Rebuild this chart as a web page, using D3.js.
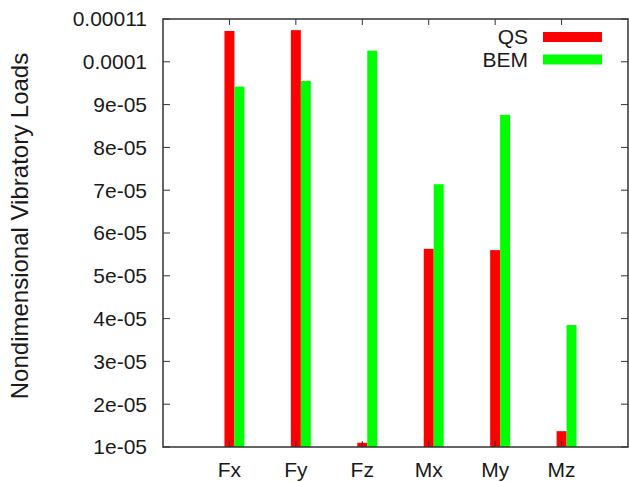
<!DOCTYPE html>
<html>
<head>
<meta charset="utf-8">
<script src="https://cdn.jsdelivr.net/npm/d3@7"></script>
<style>
  body { margin: 0; background: #fff; }
  text { font-family: "Liberation Sans", Arial, sans-serif; fill: #1a1a1a; }
</style>
</head>
<body>
<div class="chart"></div>
<script>
// data
var categories = ["Fx", "Fy", "Fz", "Mx", "My", "Mz"];
var qsValues = [1.072e-4, 1.074e-4, 1.1e-5, 5.63e-5, 5.6e-5, 1.37e-5];
var bemValues = [9.42e-5, 9.55e-5, 1.026e-4, 7.14e-5, 8.76e-5, 3.85e-5];
var yTicks = [1e-5, 2e-5, 3e-5, 4e-5, 5e-5, 6e-5, 7e-5, 8e-5, 9e-5, 1e-4, 1.1e-4];
var yTickLabels = ["1e-05", "2e-05", "3e-05", "4e-05", "5e-05", "6e-05", "7e-05", "8e-05", "9e-05", "0.0001", "0.00011"];
var seriesNames = ["QS", "BEM"];
var colors = ["#ff0000", "#00ff00"];

var width = 629, height = 482;
// plot box edges
var plotL = 163, plotR = 628, plotT = 19, plotB = 447;

var svg = d3.select(".chart").append("svg")
  .attr("width", width).attr("height", height);

// x: categories at 1..6 on a 0..7 range
var x = d3.scaleLinear().domain([0, 7]).range([plotL, plotR]);
var y = d3.scaleLinear().domain([1e-5, 1.1e-4]).range([plotB, plotT]);
var barW = x(0.15) - x(0);

// bars
var series = [qsValues, bemValues];
series.forEach(function (vals, s) {
  svg.append("g").selectAll("rect")
    .data(vals)
    .enter()
    .append("rect")
    .attr("x", function (d, i) { return x(i + 1 + s * 0.15) - barW / 2; })
    .attr("y", function (d) { return y(d); })
    .attr("width", barW)
    .attr("height", function (d) { return y(1e-5) - y(d); })
    .attr("fill", colors[s]);
});

// ticks (inward, mirrored)
var tickG = svg.append("g").attr("stroke", "#333").attr("stroke-width", 1);
yTicks.forEach(function (t) {
  tickG.append("line").attr("x1", plotL).attr("x2", plotL + 7).attr("y1", y(t)).attr("y2", y(t));
  tickG.append("line").attr("x1", plotR).attr("x2", plotR - 7).attr("y1", y(t)).attr("y2", y(t));
});
categories.forEach(function (c, i) {
  tickG.append("line").attr("x1", x(i + 1)).attr("x2", x(i + 1)).attr("y1", plotT).attr("y2", plotT + 6);
  tickG.append("line").attr("x1", x(i + 1)).attr("x2", x(i + 1)).attr("y1", plotB).attr("y2", plotB - 6);
});

// border
svg.append("rect")
  .attr("x", plotL).attr("y", plotT)
  .attr("width", plotR - plotL).attr("height", plotB - plotT)
  .attr("fill", "none").attr("stroke", "#333").attr("stroke-width", 1.5);

// tick labels
svg.append("g").selectAll("text")
  .data(yTicks)
  .enter()
  .append("text")
  .attr("x", plotL - 16)
  .attr("y", function (d) { return y(d); })
  .attr("dy", "0.35em")
  .attr("text-anchor", "end")
  .style("font-size", "21px")
  .text(function (d, i) { return yTickLabels[i]; });

svg.append("g").selectAll("text")
  .data(categories)
  .enter()
  .append("text")
  .attr("x", function (d, i) { return x(i + 1); })
  .attr("y", 477)
  .attr("text-anchor", "middle")
  .style("font-size", "21px")
  .text(function (d) { return d; });

// y label
svg.append("text")
  .attr("transform", "translate(27.5,226) rotate(-90)")
  .attr("text-anchor", "middle")
  .style("font-size", "24px")
  .text("Nondimensional Vibratory Loads");

// legend
seriesNames.forEach(function (name, s) {
  var cy = 37 + s * 22.5;
  svg.append("text")
    .attr("x", 528).attr("y", cy).attr("dy", "0.35em")
    .attr("text-anchor", "end")
    .style("font-size", "21px")
    .text(name);
  svg.append("rect")
    .attr("x", 543).attr("y", cy - 5)
    .attr("width", 59).attr("height", 10)
    .attr("fill", colors[s]);
});
</script>
</body>
</html>
